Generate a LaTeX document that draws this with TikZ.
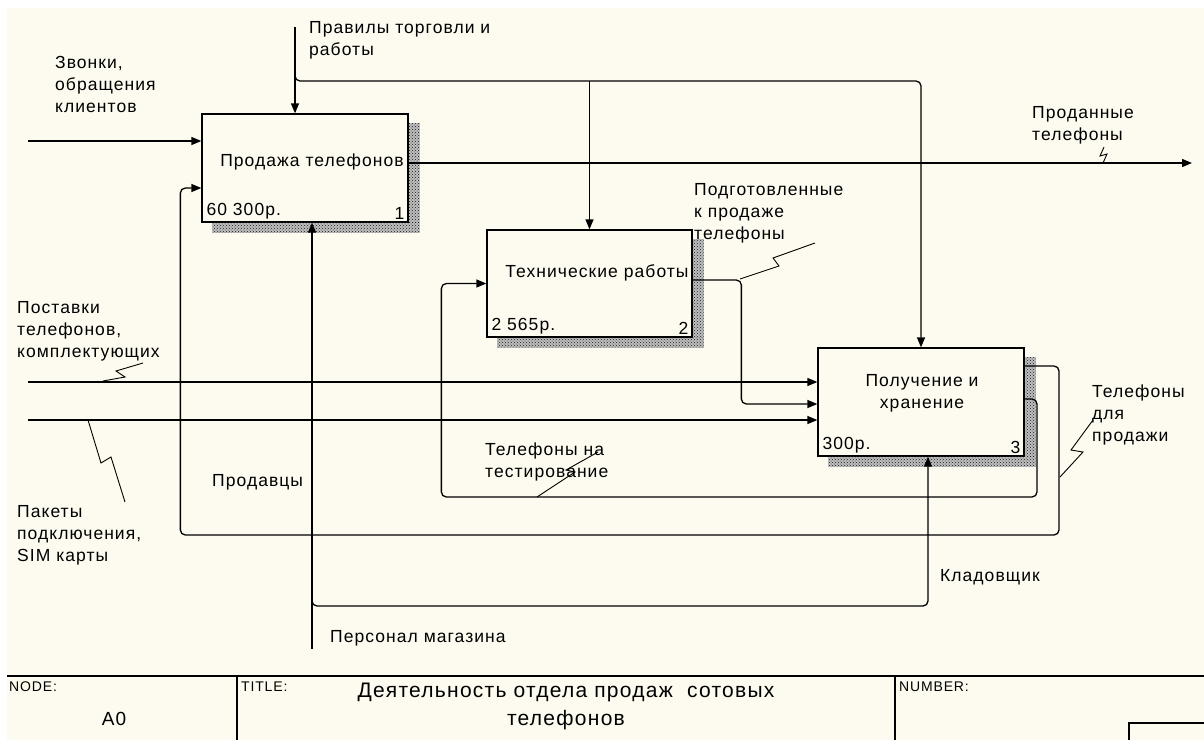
\documentclass[tikz,border=0pt]{standalone}
\usepackage{fontspec}
\setmainfont{Liberation Sans}[LetterSpace=6]
\usetikzlibrary{arrows.meta}
\usetikzlibrary{patterns}
\definecolor{paper}{RGB}{253,251,239}
\newcommand{\lblfont}{\fontsize{17.5}{22}\selectfont}
\tikzset{wire/.style = {line width=1.3pt, rounded corners=5pt},
         flow/.style = {wire, -{Triangle[length=10pt, width=8pt]}},
         box/.style = {draw, line width=1.3pt, minimum width=206pt,
                       minimum height=108pt, inner sep=0pt},
         hatch/.style = {preaction={fill=black!25}, pattern=crosshatch dots, pattern color=black!90},
         squig/.style = {line width=0.9pt},
         lbl/.style = {align=left, anchor=north west, inner sep=0pt, font=\lblfont}}

\begin{document}
\begin{tikzpicture}[x=1pt, y=-1pt]
    \useasboundingbox (0,0) rectangle (1204,740);
    \fill [paper] (7,8) rectangle (1204,740);

    % activities
    \node [box] (sale) at (305,168) {};
    \node [box, minimum width=205pt, minimum height=107pt] (tech) at (589.5,283.5) {};
    \node [box] (store) at (921,402) {};
    \foreach \b in {sale, tech, store} {
      \fill [hatch] ([yshift=-10pt]\b.north east) rectangle ([xshift=11pt, yshift=-10pt]\b.south east);
      \fill [hatch] ([xshift=11pt]\b.south west) rectangle ([xshift=11pt, yshift=-10pt]\b.south east);
    }

    \node [font=\lblfont, inner sep=0pt] (sale-name) at (312,162) {Продажа телефонов};
    \node [font=\lblfont, inner sep=1pt, anchor=south west] (sale-cost) at ([shift={(4pt,2pt)}]sale.south west) {60 300р.};
    \node [font=\lblfont, inner sep=1pt, anchor=south east] (sale-num) at ([shift={(-3pt,2pt)}]sale.south east) {1};
    \node [font=\lblfont, inner sep=0pt] (tech-name) at (597,273) {Технические работы};
    \node [font=\lblfont, inner sep=1pt, anchor=south west] (tech-cost) at ([shift={(4pt,2pt)}]tech.south west) {2 565р.};
    \node [font=\lblfont, inner sep=1pt, anchor=south east] (tech-num) at ([shift={(-3pt,2pt)}]tech.south east) {2};
    \node [font=\lblfont, inner sep=0pt, align=center] (store-name) at (922,393) {Получение и\\ хранение};
    \node [font=\lblfont, inner sep=1pt, anchor=south west] (store-cost) at ([shift={(4pt,2pt)}]store.south west) {300р.};
    \node [font=\lblfont, inner sep=1pt, anchor=south east] (store-num) at ([shift={(-3pt,2pt)}]store.south east) {3};

    % inputs
    \coordinate (calls) at (28,141);
    \coordinate (supply) at (28,382);
    \coordinate (sim) at (28,420);
    \draw [flow] (calls) -- (calls -| sale.west);
    \draw [flow] (supply) -- (supply -| store.west);
    \draw [flow] (sim) -- (sim -| store.west);

    % controls
    \coordinate (rules) at (295,27);
    \coordinate (rulebus) at (295,81);
    \draw [flow] (rules) -- (rules |- sale.north);
    \draw [flow] ([yshift=8pt]rulebus) |- (store.north |- rulebus) -- (store.north);
    \draw [flow] (tech.north |- rulebus) -- (tech.north);

    % outputs and feedback
    \coordinate (sold) at (1192,163);
    \draw [flow] (sold -| sale.east) -- (sold);
    \draw [flow] ([yshift=3.5pt]tech.east) -| ([xshift=-76pt, yshift=-2pt]store.west) -- ([yshift=-2pt]store.west);
    \draw [flow] ([yshift=3pt]store.east) -| (1037,497) -| ([xshift=-45pt]tech.west) -- (tech.west);
    \draw [flow] ([yshift=36pt]store.east) -| (1059,535) -| ([xshift=-21pt, yshift=-20pt]sale.west) -- ([yshift=-20pt]sale.west);

    % mechanisms
    \coordinate (staff) at (312,649);
    \coordinate (staffbus) at (312,606);
    \draw [flow] (staff) -- (staff |- sale.south);
    \draw [flow] ([yshift=6pt]staffbus) |- ([xshift=7pt]store.south |- staffbus) -- ([xshift=7pt]store.south);

    % arrow labels
    \node [lbl] (calls-lbl) at (55,56) {Звонки,\\обращения\\клиентов};
    \node [lbl] (rules-lbl) at (309,21) {Правилы торговли и\\работы};
    \node [lbl] (sold-lbl) at (1032,106) {Проданные\\телефоны};
    \node [lbl] (ready-lbl) at (694,183) {Подготовленные\\к продаже\\телефоны};
    \node [lbl] (supply-lbl) at (17,301) {Поставки\\телефонов,\\комплектующих};
    \node [lbl] (sim-lbl) at (17,505) {Пакеты\\подключения,\\SIM карты};
    \node [lbl] (test-lbl) at (485,443) {Телефоны на\\тестирование};
    \node [lbl] (forsale-lbl) at (1092,385) {Телефоны\\для\\продажи};
    \node [lbl, anchor=west] (sellers-lbl) at (212,482) {Продавцы};
    \node [lbl, anchor=west] (keeper-lbl) at (940,577) {Кладовщик};
    \node [lbl, anchor=west] (staff-lbl) at (330,638) {Персонал магазина};

    % squiggles
    \draw [squig] (1103,163) -- (1107,154) -- (1100,156) -- (1104,147);
    \draw [squig] (740,279) -- (779,266) -- (773,258) -- (815,243);
    \draw [squig] (103,381) -- (125,377) -- (116,371) -- (143,363);
    \draw [squig] (88,420) -- (101,463) -- (111,457) -- (125,502);
    \draw [squig] (537,497) -- (575,472) -- (566,470) -- (598,452);
    \draw [squig] (1060,477) -- (1083,452) -- (1071,450) -- (1093,420);

    % frame
    \draw [line width=1.3pt] (7,676) -- (1204,676);
    \draw [line width=1.3pt] (237,676) -- (237,740);
    \draw [line width=1.3pt] (895,676) -- (895,740);
    \draw [line width=1.3pt] (1204,723) -| (1129,740);
    \node [anchor=north west, inner sep=0pt, font=\fontsize{14}{16}\selectfont] (node-lbl) at (9,682) {NODE:};
    \node [font=\fontsize{19}{21}\selectfont] (node-id) at (114,719) {A0};
    \node [anchor=north west, inner sep=0pt, font=\fontsize{14}{16}\selectfont] (title-lbl) at (241,682) {TITLE:};
    \node [align=center, inner sep=0pt, font=\fontsize{21}{28}\selectfont] (title) at (566,706) {Деятельность отдела продаж~ сотовых\\телефонов};
    \node [anchor=north west, inner sep=0pt, font=\fontsize{14}{16}\selectfont] (number-lbl) at (899,682) {NUMBER:};
\end{tikzpicture}
\end{document}
